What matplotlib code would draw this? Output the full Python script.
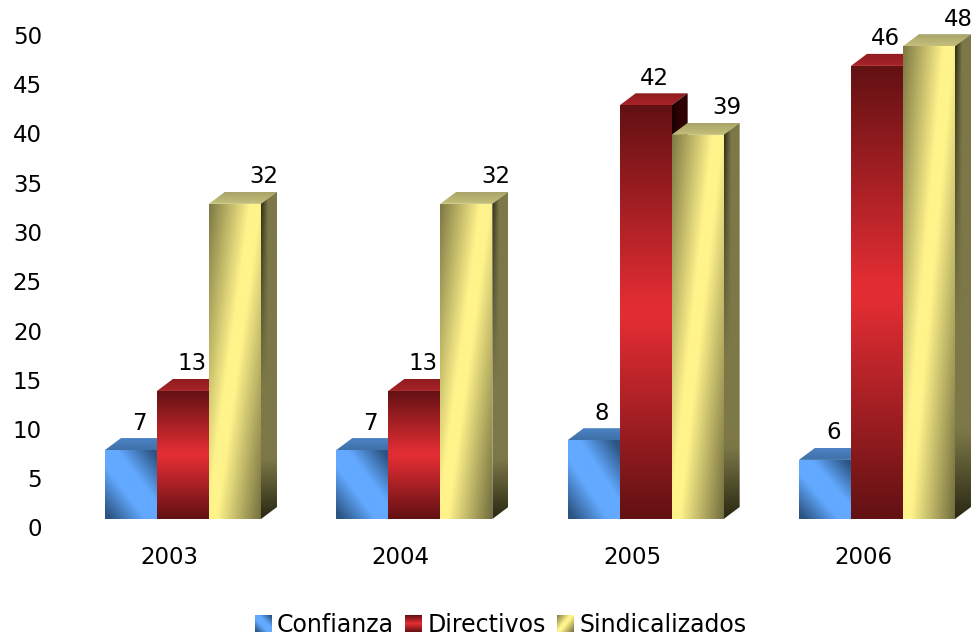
import numpy as np
import matplotlib
matplotlib.use('Agg')
import matplotlib.pyplot as plt
from matplotlib.colors import to_rgb
from matplotlib.image import BboxImage
from matplotlib.legend_handler import HandlerPatch
from matplotlib.patches import Patch, Polygon
from matplotlib.transforms import Bbox, TransformedBbox

years = ['2003', '2004', '2005', '2006']
series = ['Confianza', 'Directivos', 'Sindicalizados']
confianza = [7, 7, 8, 6]
directivos = [13, 13, 42, 46]
sindicalizados = [32, 32, 39, 48]
y_ticks = [0, 5, 10, 15, 20, 25, 30, 35, 40, 45, 50]

# pixel scale of the picture
W, H = 971, 637
cat_px = 231.33   # px between groups
val_px = 9.85     # px for one unit
x0_px = 183       # centre of first group
base_px = 519
bar_w = 52 / cat_px
dx = 16 / cat_px  # 3d depth
dy = 12 / val_px
FS = 16.5

light = {'Confianza': '#62a9ff', 'Directivos': '#e12d33', 'Sindicalizados': '#fff38b'}
dark = {'Confianza': '#2c5482', 'Directivos': '#631113', 'Sindicalizados': '#75703f'}
side_col = {'Confianza': '#2f5a8c', 'Directivos': '#2e0204', 'Sindicalizados': '#7d7848'}
side_dark = {'Confianza': '#16283f', 'Directivos': '#140001', 'Sindicalizados': '#2b2a14'}
top_back = {'Confianza': '#4c83c4', 'Directivos': '#8f1c20', 'Sindicalizados': '#a8a468'}
top_front = {'Confianza': '#3f70a8', 'Directivos': '#a82328', 'Sindicalizados': '#c4bf7a'}


def mix(c1, c2, t):
    # t=0 gives c1, t=1 gives c2
    a = np.array(to_rgb(c1))
    b = np.array(to_rgb(c2))
    return a + (b - a) * t[..., None]


def front_shade(name, n=80):
    # row 0 is the top of the face
    u, v = np.meshgrid(np.linspace(0, 1, n), np.linspace(0, 1, n))
    if name == 'Confianza':
        t = np.clip(np.abs(u - v) * 1.5 - 0.35, 0, 1)
    elif name == 'Directivos':
        t = np.clip(np.abs(v - 0.5) * 2.1 - 0.05, 0, 1)
    else:
        ridge = 0.88 - 0.83 * v
        t = np.clip(np.abs(u - ridge) * 1.2 - 0.12, 0, 1)
    return mix(light[name], dark[name], t)


def side_shade(name, n=80):
    u, v = np.meshgrid(np.linspace(0, 1, n), np.linspace(0, 1, n))
    t = np.clip(1 - u / 0.45, 0, 1) * np.clip(1 - v / 0.6, 0, 1) + np.clip((v - 0.82) / 0.18, 0, 1)
    return mix(side_col[name], side_dark[name], np.clip(t, 0, 1))


def top_shade(name, n=40):
    u, v = np.meshgrid(np.linspace(0, 1, 4), np.linspace(0, 1, n))
    return mix(top_back[name], top_front[name], v)


def face(ax, img, pts, z):
    pts = np.array(pts)
    poly = Polygon(pts, closed=True, transform=ax.transData, facecolor='none', edgecolor='none')
    ax.add_patch(poly)
    im = ax.imshow(img, extent=(pts[:, 0].min(), pts[:, 0].max(), pts[:, 1].min(), pts[:, 1].max()),
                   origin='upper', aspect='auto', interpolation='bilinear', zorder=z)
    im.set_clip_path(poly)


class GradientHandler(HandlerPatch):
    def create_artists(self, legend, orig_handle, xdescent, ydescent, width, height, fontsize, trans):
        box = TransformedBbox(Bbox.from_bounds(-xdescent, -ydescent, width, height), trans)
        im = BboxImage(box, interpolation='bilinear', origin='upper')
        im.set_data(front_shade(orig_handle.get_label()))
        return [im]


fig = plt.figure(figsize=(W / 100, H / 100), dpi=100)
ax = fig.add_axes([0, 0, 1, 1])

z = 2
for s, (name, vals) in enumerate(zip(series, [confianza, directivos, sindicalizados])):
    for i, v in enumerate(vals):
        left = i + (s - 1.5) * bar_w
        right = left + bar_w
        face(ax, top_shade(name), [(left, v), (left + dx, v + dy), (right + dx, v + dy), (right, v)], z)
        face(ax, side_shade(name), [(right, 0), (right, v), (right + dx, v + dy), (right + dx, dy)], z + 1)
        face(ax, front_shade(name), [(left, 0), (left, v), (right, v), (right, 0)], z + 2)
        lab_dx = 29 if s == 2 else 8.5
        ax.annotate(str(v), (left + bar_w / 2, v), xytext=(lab_dx * 0.72, 27 * 0.72),
                    textcoords='offset points', ha='center', va='center',
                    fontsize=FS, color='black', zorder=50, annotation_clip=False)
        z += 3

ax.set_xlim(-x0_px / cat_px, (W - x0_px) / cat_px)
ax.set_ylim((base_px - H) / val_px, base_px / val_px)
ax.axis('off')

for t in y_ticks:
    ax.annotate(str(t), (-x0_px / cat_px, t), xytext=(42 * 0.72, -11 * 0.72), textcoords='offset points',
                ha='right', va='center', fontsize=FS, color='black')
for i, y in enumerate(years):
    ax.annotate(y, (i, 0), xytext=(-13.5 * 0.72, -39 * 0.72), textcoords='offset points',
                ha='center', va='center', fontsize=FS, color='black')

handles = [Patch(label=n) for n in series]
ax.legend(handles=handles, handler_map={Patch: GradientHandler()}, loc='center',
          bbox_to_anchor=(500.5 / W, 1 - 624.5 / H), ncol=3, frameon=False, fontsize=17,
          handlelength=0.72, handleheight=0.72, handletextpad=0.21, columnspacing=0.5,
          borderpad=0, borderaxespad=0)

fig.savefig('out.png', dpi=100)
